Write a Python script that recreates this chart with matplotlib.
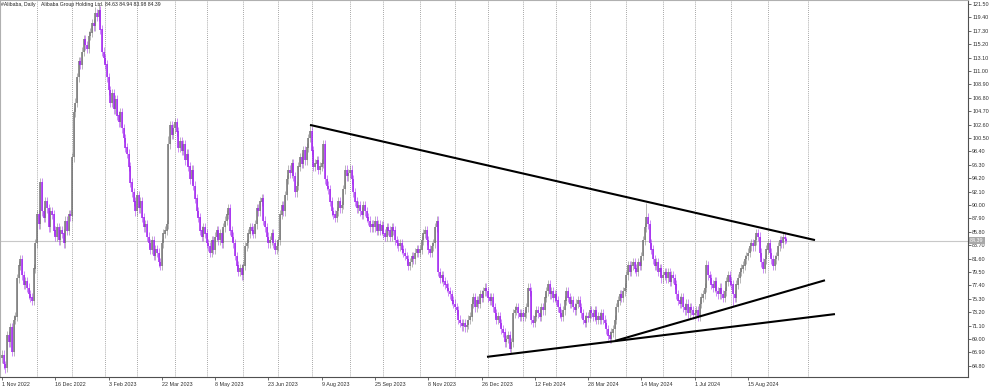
import numpy as np
import matplotlib
matplotlib.use("Agg")
import matplotlib.pyplot as plt
import matplotlib.transforms as mtransforms

# ---------------- data (daily closes) ----------------
nov22 = [66.5, 65.0, 64.5, 69.5, 68.5, 70.8, 67.0, 72.0, 72.5, 78.5, 80.5, 81.5, 79.0, 77.5, 78.0, 77.0, 76.0, 75.5, 75.0, 80.0, 84.0]
dec22 = [88.5, 87.0, 93.5, 89.0, 88.0, 90.5, 89.5, 86.5, 89.0, 88.5, 86.0, 85.0, 86.5, 84.5, 86.0, 85.5, 84.0, 87.5, 86.0, 88.5, 88.2]
jan23 = [97.5, 104.5, 106.0, 110.0, 112.5, 112.0, 114.0, 116.0, 115.0, 114.5, 116.5, 117.0, 118.5, 118.0, 120.0, 119.5, 120.5, 117.5, 114.0, 113.0]
feb23 = [112.0, 110.0, 108.0, 106.0, 107.5, 105.0, 106.5, 104.0, 103.0, 104.5, 102.0, 100.5, 99.0, 98.0, 96.0, 93.5, 92.0, 90.5, 89.0]
mar23 = [91.5, 89.5, 90.5, 88.0, 86.5, 87.0, 85.0, 84.0, 83.0, 84.5, 82.0, 83.0, 82.5, 81.0, 80.5, 84.0, 85.5, 86.0, 87.0, 99.5, 102.5, 101.0, 102.0]
apr23 = [103.0, 101.5, 99.0, 100.0, 98.5, 99.5, 97.0, 98.0, 96.0, 94.0, 95.5, 93.0, 91.0, 89.0, 88.0, 86.0, 85.0, 86.5, 85.5]
may23 = [84.0, 83.5, 82.5, 84.5, 83.0, 85.0, 86.0, 84.5, 85.5, 84.0, 86.5, 87.5, 88.5, 89.5, 86.0, 85.0, 84.0, 82.0, 80.5, 79.5, 80.0, 79.0]
jun23 = [80.5, 83.5, 84.0, 85.5, 86.5, 86.0, 85.5, 87.0, 89.5, 89.0, 90.5, 91.0, 87.5, 86.5, 85.0, 84.0, 84.5, 85.5, 84.0, 83.0, 83.5]
jul23 = [84.5, 88.5, 90.0, 89.0, 91.5, 94.0, 95.5, 95.0, 96.5, 94.5, 92.0, 93.0, 96.0, 97.5, 96.5, 98.5, 97.0, 99.0, 100.5, 101.5]
aug23 = [98.5, 96.0, 96.5, 97.0, 95.5, 96.0, 96.5, 99.5, 94.0, 93.0, 92.5, 90.5, 89.0, 88.5, 88.0, 89.0, 90.5, 89.5, 90.0, 92.5, 95.5, 94.5, 95.0]
sep23 = [95.5, 94.0, 92.0, 90.5, 89.5, 90.0, 89.0, 88.5, 90.0, 89.0, 88.0, 87.5, 86.5, 87.0, 86.5, 87.5, 86.0, 87.0, 86.0, 86.8]
oct23 = [85.5, 85.0, 86.5, 86.0, 85.0, 86.5, 86.0, 84.5, 84.0, 83.5, 84.0, 83.0, 82.5, 82.0, 81.5, 80.5, 81.0, 82.0, 81.5, 82.5, 83.0, 82.5]
nov23 = [83.0, 84.5, 85.5, 86.0, 84.5, 83.0, 82.5, 83.5, 84.0, 86.5, 87.5, 79.5, 78.5, 79.0, 78.0, 77.5, 77.0, 76.5, 76.0, 75.0, 74.5]
dec23 = [74.0, 73.5, 72.0, 71.5, 71.0, 71.5, 70.8, 71.2, 72.0, 72.5, 74.5, 75.5, 74.0, 75.0, 74.5, 76.0, 75.5, 76.5, 77.0, 76.5]
jan24 = [75.5, 75.0, 75.5, 74.0, 73.0, 72.0, 72.5, 71.5, 70.5, 70.0, 68.5, 69.0, 69.5, 67.5, 68.5, 73.0, 73.5, 74.0, 73.0, 72.5, 73.0]
feb24 = [72.5, 73.0, 74.0, 77.0, 76.5, 72.0, 71.5, 72.5, 73.5, 73.0, 72.5, 74.0, 73.5, 75.5, 76.5, 77.5, 76.0, 76.5, 75.5, 76.0]
mar24 = [75.0, 74.0, 73.0, 72.5, 73.5, 75.0, 76.5, 75.5, 74.5, 75.0, 74.0, 73.5, 74.5, 75.0, 74.0, 73.0, 72.0, 71.5, 72.5, 72.3]
apr24 = [73.5, 73.0, 72.5, 73.5, 72.0, 72.5, 72.0, 73.0, 72.0, 71.5, 70.5, 69.5, 69.0, 70.0, 70.5, 72.0, 74.0, 75.0, 76.0, 75.5, 76.5, 77.0]
may24 = [79.0, 80.5, 79.5, 80.5, 81.0, 80.0, 79.5, 81.0, 80.5, 82.0, 84.5, 86.5, 88.0, 87.0, 84.0, 83.0, 81.5, 80.5, 81.0, 79.5, 80.0, 78.5]
jun24 = [79.0, 79.5, 78.5, 79.5, 78.0, 79.0, 78.5, 77.5, 76.0, 75.0, 74.5, 75.5, 74.0, 73.5, 74.5, 73.0, 74.0, 73.5, 72.8]
jul24 = [73.0, 73.5, 72.5, 74.5, 75.5, 76.0, 77.0, 80.5, 79.0, 78.5, 77.5, 77.0, 78.0, 76.5, 76.0, 77.0, 76.0, 75.5, 76.5, 78.0, 79.0, 78.0]
aug24 = [77.5, 76.0, 75.5, 77.5, 78.5, 79.5, 80.0, 80.5, 81.5, 82.0, 82.5, 83.5, 84.0, 83.5, 84.5, 85.5, 85.0, 82.5, 81.0, 80.0, 81.5, 83.0]
sep24 = [84.0, 82.5, 81.5, 80.5, 81.5, 82.0, 83.5, 84.5, 84.0, 85.0, 84.63, 84.39]

closes = np.array(nov22 + dec22 + jan23 + feb23 + mar23 + apr23 + may23 + jun23 + jul23 + aug23
                  + sep23 + oct23 + nov23 + dec23 + jan24 + feb24 + mar24 + apr24 + may24 + jun24
                  + jul24 + aug24 + sep24)
first_open = 66.0
high_overrides = {2: 65.5, 56: 121.0, 58: 121.3, 100: 100.8, 185: 102.6, 387: 90.3, 423: 81.4, 453: 86.2, 471: 84.94}
low_overrides = {2: 63.6, 305: 66.9, 368: 68.7, 439: 74.2, 471: 83.98}

last_quote = "84.63 84.94 83.98 84.39"
last_price = 84.39

tick_pos = [0, 32, 64, 96, 128, 160, 192, 224, 256, 288, 320, 352, 384, 416, 448]
tick_labels = ['1 Nov 2022', '16 Dec 2022', '3 Feb 2023', '22 Mar 2023', '8 May 2023', '23 Jun 2023',
               '9 Aug 2023', '25 Sep 2023', '8 Nov 2023', '26 Dec 2023', '12 Feb 2024', '28 Mar 2024',
               '14 May 2024', '1 Jul 2024', '15 Aug 2024']
month_starts = [21, 42, 62, 81, 104, 123, 145, 166, 186, 209, 229, 251, 272, 292, 313, 333,
                353, 375, 397, 416, 438, 460, 484]
y_ticks = [round(121.5 - 2.1 * k, 2) for k in range(28)]

# trend lines: (bar index, price) pairs
trend_upper = ([185.0, 488.3], [102.55, 84.5])
trend_low_long = ([291.3, 500.3], [66.2, 72.9])
trend_low_short = ([368.2, 494.3], [68.7, 78.2])

# ---------------- candles ----------------
n = len(closes)
idx = np.arange(n)
opens = np.concatenate([[first_open], closes[:-1]])
opens[-1] = 84.63
wick = 0.7
highs = np.maximum(opens, closes) + wick
lows = np.minimum(opens, closes) - wick
for k, v in high_overrides.items():
    highs[k] = v
for k, v in low_overrides.items():
    lows[k] = v
up = closes >= opens

UP_C = '#747474'
DN_C = '#a020f0'

plt.rcParams['font.family'] = ['Liberation Sans', 'DejaVu Sans']
fig = plt.figure(figsize=(10, 3.87), dpi=100)
ax = fig.add_axes([0.0, 10 / 387, 0.968, 377 / 387])
ax.set_xlim(-1.2, 580.2)
ax.set_ylim(63.04, 122.13)

for m in month_starts:
    ax.axvline(m, color='#8a8a8a', linestyle=(0, (1, 1.5)), linewidth=0.6, zorder=0)

ax.axhline(last_price, color='#c8c8c8', linewidth=0.8, zorder=1)

for mask, col in ((up, UP_C), (~up, DN_C)):
    ax.vlines(idx[mask], lows[mask], highs[mask], color=col, linewidth=0.45, alpha=0.8, zorder=2)
    ax.vlines(idx[mask], np.minimum(opens, closes)[mask], np.maximum(opens, closes)[mask] + 0.05,
              color=col, linewidth=1.1, zorder=3)

for xs, ys in (trend_upper, trend_low_long, trend_low_short):
    ax.plot(xs, ys, color='black', linewidth=1.5, solid_capstyle='butt', zorder=4)

# axes styling
ax.yaxis.tick_right()
ax.set_yticks(y_ticks)
ax.set_yticklabels([f"{v:.2f}" for v in y_ticks])
ax.set_xticks(tick_pos)
ax.set_xticklabels(tick_labels)
for lab in ax.get_xticklabels():
    lab.set_horizontalalignment('left')
ax.tick_params(axis='y', direction='out', length=2, width=0.5, labelsize=3.9, pad=1,
               colors='#303030')
ax.tick_params(axis='x', direction='out', length=2.5, width=0.5, labelsize=3.9, pad=1,
               colors='#303030')
for side in ('left', 'top'):
    ax.spines[side].set_color('#b0b0b0')
    ax.spines[side].set_linewidth(0.8)
for side in ('right', 'bottom'):
    ax.spines[side].set_color('#505050')
    ax.spines[side].set_linewidth(0.8)

trans = mtransforms.blended_transform_factory(ax.transAxes, ax.transData)
ax.text(1.002, last_price, f"{last_price:.2f}", transform=trans, ha='left', va='center',
        fontsize=3.9, color='white', zorder=6,
        bbox=dict(facecolor='#a8a8a8', edgecolor='none', pad=0.8))

top_y = 1 - 4.5 / 387
fig.text(0.001, top_y, "#Alibaba, Daily", fontsize=3.7, va='center', ha='left', color='#202020')
fig.text(0.041, top_y, "Alibaba Group Holding Ltd.", fontsize=3.7, va='center', ha='left', color='#202020')
fig.text(0.105, top_y, last_quote, fontsize=3.7, va='center', ha='left', color='#202020')

fig.savefig('out.png', dpi=100)
